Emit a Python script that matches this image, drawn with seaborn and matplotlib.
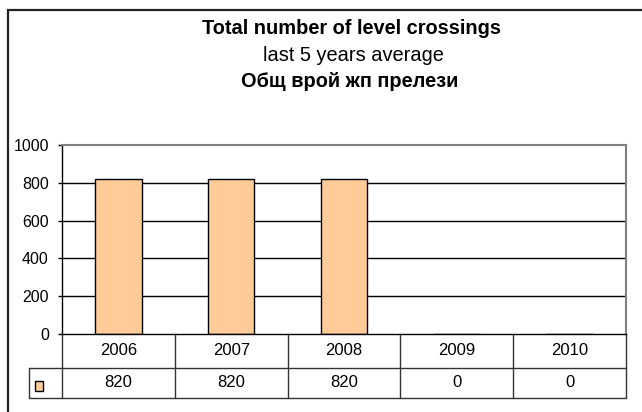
import matplotlib
matplotlib.use("Agg")
import matplotlib.pyplot as plt
import matplotlib.transforms as mtransforms
from matplotlib.patches import Rectangle
import seaborn as sns
import pandas as pd

# Chart data
years = ["2006", "2007", "2008", "2009", "2010"]
crossings = [820, 820, 820, 0, 0]
y_ticks = [0, 200, 400, 600, 800, 1000]
title_lines = ["Total number of level crossings", "last 5 years average", "Общ врой жп прелези"]

W, H = 642, 412
BAR_COLOR = "#FFCC99"

sns.set_theme(style="white")
plt.rcParams["font.family"] = ["Liberation Sans", "DejaVu Sans"]

fig = plt.figure(figsize=(W / 100, H / 100), dpi=100)
fig.patch.set_facecolor("white")


def fx(px):
    return px / W


def fy(py):
    return (H - py) / H


# plot area in pixel coordinates (left, top, right, bottom)
L, T, R, B = 62, 145, 626, 334
ax = fig.add_axes([fx(L), fy(B), fx(R) - fx(L), fy(T) - fy(B)])

df = pd.DataFrame({"year": years, "count": crossings})
sns.barplot(data=df, x="year", y="count", color=BAR_COLOR, width=0.41,
            edgecolor="black", linewidth=1.0, saturation=1, ax=ax)

ax.set_xlim(-0.5, len(years) - 0.5)
ax.set_ylim(y_ticks[0], y_ticks[-1])
ax.set_yticks(y_ticks)
ax.set_yticklabels([str(v) for v in y_ticks], fontsize=11.5, color="black")
ax.set_xticks([])
ax.set_xlabel("")
ax.set_ylabel("")
ax.tick_params(axis="y", direction="out", length=3, width=1, color="black", pad=6.5, left=True)

# horizontal gridlines under the bars
for v in y_ticks[1:-1]:
    ax.axhline(v, color="black", linewidth=1, zorder=0)
ax.set_axisbelow(True)

ax.spines["left"].set_color("black")
ax.spines["left"].set_linewidth(1)
ax.spines["bottom"].set_color("black")
ax.spines["bottom"].set_linewidth(1)
for s in ("top", "right"):
    ax.spines[s].set_color("#808080")
    ax.spines[s].set_linewidth(1.5)

# data table beneath the axis
tr = mtransforms.blended_transform_factory(ax.transData, fig.transFigure)
row1_bottom, row2_bottom = 367.7, 398
legend_left = 29
line_kw = dict(color="#333333", linewidth=1, clip_on=False)

for i in range(len(years) + 1):
    xb = i - 0.5
    ax.plot([xb, xb], [fy(B), fy(row2_bottom)], transform=tr, **line_kw)
for yb in (row1_bottom, row2_bottom):
    fig.add_artist(plt.Line2D([fx(legend_left), fx(R)], [fy(yb), fy(yb)],
                              transform=fig.transFigure, color="#333333", linewidth=1))
fig.add_artist(plt.Line2D([fx(legend_left), fx(legend_left)], [fy(row1_bottom), fy(row2_bottom)],
                          transform=fig.transFigure, color="#333333", linewidth=1))

for i, (yr, val) in enumerate(zip(years, crossings)):
    ax.text(i, fy((B + row1_bottom) / 2), yr, transform=tr, ha="center", va="center",
            fontsize=12, color="black", clip_on=False)
    ax.text(i, fy((row1_bottom + row2_bottom) / 2), str(val), transform=tr, ha="center",
            va="center", fontsize=12, color="black", clip_on=False)

# legend key in the table
fig.add_artist(Rectangle((fx(34.5), fy(390.5)), fx(8.5), fy(381) - fy(390.5) - 0 + 0,
                         transform=fig.transFigure, facecolor=BAR_COLOR,
                         edgecolor="black", linewidth=1))

# title block
fig.text(fx(351), fy(34.3), title_lines[0], ha="center", va="baseline",
         fontsize=14.4, fontweight="bold", color="black")
fig.text(fx(353), fy(60.7), title_lines[1], ha="center", va="baseline",
         fontsize=14.4, color="black")
fig.text(fx(350), fy(87), title_lines[2], ha="center", va="baseline",
         fontsize=14.4, fontweight="bold", color="black")

# chart border
fig.add_artist(Rectangle((fx(7.5), fy(430)), fx(700), fy(9.5) - fy(430),
                         transform=fig.transFigure, fill=False,
                         edgecolor="#222222", linewidth=1.6))

fig.savefig("out.png", dpi=100, facecolor="white")
